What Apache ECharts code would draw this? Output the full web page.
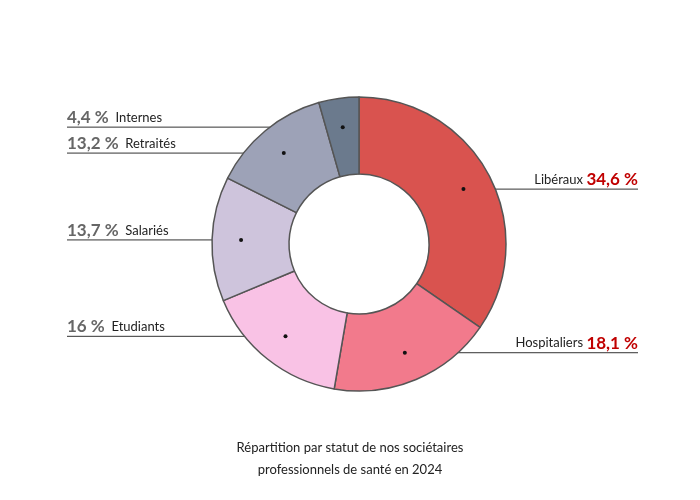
<!DOCTYPE html>
<html><head><meta charset="utf-8">
<script src="https://cdn.jsdelivr.net/npm/echarts@6/dist/echarts.min.js"></script>
<style>html,body{margin:0;padding:0;background:#fff}#c{width:700px;height:500px}</style>
</head><body><div id="c"></div>
<script>
const categories=['Libéraux','Hospitaliers','Etudiants','Salariés','Retraités','Internes'];
const values=[34.6,18.1,16,13.7,13.2,4.4];
const colors=['#d9534f','#f27a8c','#f9c2e5','#cec4dc','#9da2b7','#6b7a8d'];
const cx=359,cy=244,rOut=147,rIn=70,rDot=118;
const total=values.reduce((a,b)=>a+b,0);
const anchors=[];let acc=0;
values.forEach(v=>{const a=(acc+v/2)/total*2*Math.PI;acc+=v;anchors.push([cx+rDot*Math.sin(a),cy-rDot*Math.cos(a)]);});
const fmt=v=>String(v).replace('.',',')+' %';
const chart=echarts.init(document.getElementById('c'));
chart.setOption({
 animation:false,
 title:{text:'Répartition par statut de nos sociétaires\nprofessionnels de santé en 2024',left:345,textAlign:'center',top:432,
  textStyle:{fontFamily:'Lato',fontSize:13,fontWeight:'normal',color:'#222',lineHeight:22}},
 graphic:anchors.map(p=>({type:'circle',shape:{cx:p[0],cy:p[1],r:2},style:{fill:'#111'},z:100})),
 series:[{type:'pie',center:[cx,cy],radius:[rIn,rOut],startAngle:90,clockwise:true,
  itemStyle:{borderColor:'#555',borderWidth:1.5},
  data:categories.map((c,i)=>({name:c,value:values[i],itemStyle:{color:colors[i]}})),
  label:{show:true,position:'outside',
   formatter:p=>{const right=p.dataIndex<2;return right?'{n|'+p.name+'} {vr|'+fmt(p.value)+'}':'{v|'+fmt(p.value)+'}  {n|'+p.name+'}';},
   rich:{n:{fontFamily:'Lato',fontSize:13,color:'#222'},v:{fontFamily:'Lato',fontSize:17,fontWeight:'bold',color:'#666'},vr:{fontFamily:'Lato',fontSize:17,fontWeight:'bold',color:'#c00000'}}},
  labelLine:{show:true,lineStyle:{color:'#333',width:1}},
  labelLayout:function(p){const i=p.dataIndex;const a=anchors[i];const right=i<2;
   const ex=right?638:67;
   return {x:ex,y:a[1]-1,align:right?'right':'left',verticalAlign:'bottom',labelLinePoints:[[a[0],a[1]],[a[0],a[1]],[ex,a[1]]]};}
 }]
});
</script></body></html>
